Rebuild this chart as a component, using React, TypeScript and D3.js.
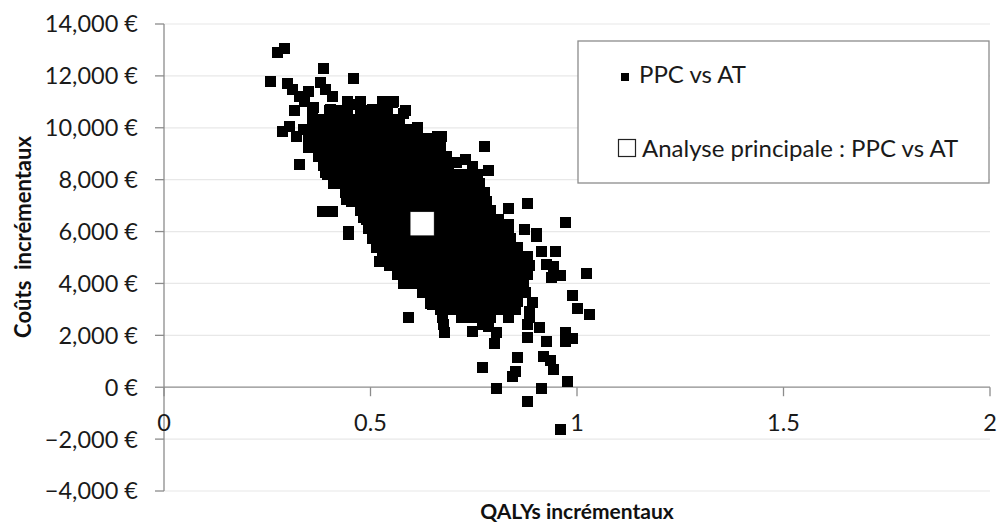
import React from 'react';
import * as d3 from 'd3';

// axis ticks
const xTicks = [0, 0.5, 1, 1.5, 2];
const yTicks = [-4000, -2000, 0, 2000, 4000, 6000, 8000, 10000, 12000, 14000];

// base case (white square)
const mainAnalysis = { qaly: 0.625, cost: 6300 };

// scattered simulations around the cloud, [qaly, cost]
const scattered: [number, number][] = [
  [0.274, 12900], [0.291, 13060], [0.387, 12290], [0.460, 11910], [0.259, 11790], [0.298, 11720],
  [0.312, 11480], [0.329, 11210], [0.349, 11400], [0.378, 11750], [0.390, 11480], [0.409, 11210],
  [0.341, 11020], [0.361, 10790], [0.317, 10680], [0.402, 10710], [0.455, 10900], [0.475, 10600],
  [0.504, 10710], [0.530, 10600], [0.554, 10980], [0.579, 10560], [0.615, 10020], [0.613, 9710],
  [0.663, 9670], [0.286, 9870], [0.305, 10060], [0.322, 9670], [0.337, 9940], [0.370, 9940],
  [0.358, 9250], [0.329, 8590], [0.390, 8290], [0.426, 7940], [0.443, 7250], [0.383, 6780],
  [0.407, 6780], [0.482, 6550], [0.446, 6010],
  [0.673, 9670], [0.775, 9290], [0.709, 8670], [0.729, 8790], [0.748, 8520], [0.785, 8360],
  [0.835, 6900], [0.879, 7090], [0.973, 6360], [0.833, 6280], [0.874, 6090], [0.903, 5930],
  [0.903, 5820], [0.915, 5240], [0.949, 5240], [0.927, 4740], [0.959, 4320], [0.939, 4240],
  [0.944, 4660], [1.022, 4390], [0.990, 3550], [1.002, 3050], [1.031, 2810], [0.646, 3240],
  [0.591, 2700],
  [0.971, 2120], [0.971, 1770], [0.990, 1890], [0.925, 1770], [0.920, 1200], [0.937, 1040],
  [0.944, 690], [0.978, 230], [0.908, 2310], [0.879, 1930], [0.855, 1160], [0.850, 620],
  [0.845, 420], [0.770, 770], [0.804, -40], [0.915, -40], [0.879, -540], [0.959, -1620],
  [0.801, 1700], [0.806, 2120], [0.748, 2160], [0.680, 2120], [0.676, 2430], [0.651, 3200],
  [0.879, 2430], [0.893, 3280], [0.886, 2930], [0.886, 2700], [0.446, 5900], [0.523, 4860],
  [0.584, 4090], [0.649, 3200], [0.770, 2400], [0.785, 2350],
];

// dense part of the cloud, read row by row: [cost, qalys]
const cloudRows: [number, number[]][] = [
  [11000, [0.445, 0.475, 0.53, 0.555]],
  [10650, [0.36, 0.4, 0.425, 0.445, 0.49, 0.515, 0.54, 0.585]],
  [10300, [0.36, 0.385, 0.41, 0.43, 0.455, 0.48, 0.5, 0.525, 0.55, 0.57]],
  [9950, [0.355, 0.38, 0.4, 0.425, 0.445, 0.47, 0.49, 0.51, 0.535, 0.555, 0.58, 0.6]],
  [9600, [0.35, 0.37, 0.395, 0.415, 0.44, 0.46, 0.485, 0.505, 0.525, 0.55, 0.57, 0.595, 0.615, 0.64]],
  [9250, [0.35, 0.375, 0.395, 0.42, 0.44, 0.465, 0.485, 0.51, 0.53, 0.555, 0.575, 0.6, 0.62, 0.645, 0.67]],
  [8900, [0.375, 0.4, 0.42, 0.445, 0.465, 0.49, 0.51, 0.535, 0.555, 0.58, 0.6, 0.625, 0.645, 0.67, 0.685]],
  [8550, [0.385, 0.405, 0.43, 0.45, 0.475, 0.495, 0.52, 0.54, 0.565, 0.585, 0.61, 0.63, 0.655, 0.675, 0.69]],
  [8200, [0.395, 0.41, 0.43, 0.455, 0.475, 0.5, 0.52, 0.545, 0.565, 0.59, 0.61, 0.635, 0.655, 0.68, 0.7, 0.72, 0.745, 0.76]],
  [7850, [0.41, 0.43, 0.455, 0.475, 0.5, 0.52, 0.545, 0.565, 0.59, 0.61, 0.635, 0.655, 0.68, 0.7, 0.725, 0.745, 0.765]],
  [7500, [0.44, 0.46, 0.485, 0.505, 0.53, 0.55, 0.575, 0.595, 0.62, 0.64, 0.665, 0.685, 0.71, 0.73, 0.75, 0.775]],
  [7150, [0.455, 0.48, 0.5, 0.525, 0.545, 0.57, 0.59, 0.615, 0.635, 0.66, 0.68, 0.705, 0.725, 0.75, 0.77, 0.78]],
  [6800, [0.475, 0.5, 0.52, 0.545, 0.565, 0.59, 0.61, 0.635, 0.655, 0.68, 0.7, 0.725, 0.745, 0.77, 0.79]],
  [6450, [0.49, 0.51, 0.535, 0.555, 0.58, 0.6, 0.625, 0.645, 0.67, 0.69, 0.715, 0.735, 0.76, 0.78, 0.8, 0.81]],
  [6100, [0.495, 0.52, 0.54, 0.565, 0.585, 0.61, 0.63, 0.655, 0.675, 0.7, 0.72, 0.745, 0.765, 0.79, 0.81, 0.835]],
  [5750, [0.505, 0.525, 0.55, 0.57, 0.595, 0.615, 0.64, 0.66, 0.685, 0.705, 0.73, 0.75, 0.775, 0.795, 0.82, 0.84]],
  [5400, [0.515, 0.54, 0.56, 0.585, 0.605, 0.63, 0.65, 0.675, 0.695, 0.72, 0.74, 0.765, 0.785, 0.81, 0.83, 0.855]],
  [5050, [0.53, 0.55, 0.575, 0.595, 0.62, 0.64, 0.665, 0.685, 0.71, 0.73, 0.755, 0.775, 0.8, 0.82, 0.845, 0.865, 0.88]],
  [4700, [0.545, 0.57, 0.59, 0.615, 0.635, 0.66, 0.68, 0.705, 0.725, 0.75, 0.77, 0.795, 0.815, 0.84, 0.86, 0.885]],
  [4350, [0.565, 0.585, 0.61, 0.63, 0.655, 0.675, 0.7, 0.72, 0.745, 0.765, 0.79, 0.81, 0.835, 0.855, 0.88]],
  [4000, [0.58, 0.6, 0.625, 0.645, 0.67, 0.69, 0.715, 0.735, 0.76, 0.78, 0.805, 0.825, 0.85, 0.87]],
  [3650, [0.625, 0.65, 0.67, 0.695, 0.715, 0.74, 0.76, 0.785, 0.805, 0.83, 0.85, 0.875]],
  [3300, [0.65, 0.675, 0.695, 0.72, 0.74, 0.765, 0.785, 0.81, 0.83, 0.855]],
  [3000, [0.67, 0.69, 0.715, 0.735, 0.76, 0.78, 0.805, 0.825, 0.85]],
  [2700, [0.675, 0.72, 0.745, 0.765, 0.79, 0.835]],
];

const W = 997;
const H = 523;
const font = 'Lato, "Open Sans", sans-serif';

export default function App() {
  const x = d3.scaleLinear().domain([0, 2]).range([164, 990]);
  const y = d3.scaleLinear().domain([-4000, 14000]).range([491, 24]);
  const fmtCost = (v: number) => d3.format(',')(v) + ' €';

  const points: [number, number][] = [...scattered];
  cloudRows.forEach(([c, qs]) => qs.forEach((q) => points.push([q, c])));

  const s = 11;
  const big = 24;

  return (
    <svg width={W} height={H} style={{ position: 'absolute', left: 0, top: 0, background: '#fff' }} fontFamily={font}>
      {/* gridlines */}
      {yTicks.filter((t) => t !== 0).map((t) => (
        <line key={'g' + t} x1={x(0)} x2={x(2)} y1={y(t)} y2={y(t)} stroke="#e8e8e8" strokeWidth={1.2} />
      ))}
      {/* y axis */}
      <line x1={x(0)} x2={x(0)} y1={y(14000)} y2={y(-4000)} stroke="#8c8c8c" strokeWidth={1.3} />
      {yTicks.map((t) => (
        <g key={'y' + t}>
          <line x1={x(0) - 9} x2={x(0)} y1={y(t)} y2={y(t)} stroke="#8c8c8c" strokeWidth={1.3} />
          <text x={138} y={y(t)} dy="0.36em" textAnchor="end" fontSize={23.5} fill="#1a1a1a">
            {fmtCost(t)}
          </text>
        </g>
      ))}
      {/* x axis at zero cost */}
      <line x1={x(0)} x2={x(2)} y1={y(0)} y2={y(0)} stroke="#8c8c8c" strokeWidth={1.3} />
      {xTicks.map((t) => (
        <g key={'x' + t}>
          <line x1={x(t)} x2={x(t)} y1={y(0)} y2={y(0) + 9} stroke="#8c8c8c" strokeWidth={1.3} />
          <text x={x(t)} y={431} textAnchor="middle" fontSize={23.5} fill="#1a1a1a">
            {String(t)}
          </text>
        </g>
      ))}
      {/* simulations */}
      <g shapeRendering="crispEdges">
        {points.map(([q, c], i) => (
          <rect key={i} x={x(q) - s / 2} y={y(c) - s / 2} width={s} height={s} fill="#000" />
        ))}
      </g>
      <rect
        x={x(mainAnalysis.qaly) - big / 2}
        y={y(mainAnalysis.cost) - big / 2}
        width={big}
        height={big}
        fill="#fff"
        stroke="#000"
        strokeWidth={0.5}
      />
      {/* legend */}
      <rect x={578} y={41} width={411} height={142} fill="#fff" stroke="#8c8c8c" strokeWidth={1.3} />
      <rect x={621} y={73} width={8} height={8} fill="#000" />
      <text x={639} y={83} fontSize={24} fill="#1a1a1a">PPC vs AT</text>
      <rect x={618.5} y={139.5} width={17} height={17} fill="#fff" stroke="#222" strokeWidth={1.2} />
      <text x={642} y={157} fontSize={24} fill="#1a1a1a">Analyse principale : PPC vs AT</text>
      {/* axis titles */}
      <text
        transform={`translate(31, ${237}) rotate(-90)`}
        textAnchor="middle"
        fontSize={22}
        fontWeight="bold"
        fill="#111"
        style={{ whiteSpace: 'pre' }}
      >
        {'Coûts  incrémentaux'}
      </text>
      <text x={577} y={519} textAnchor="middle" fontSize={21} fontWeight="bold" fill="#111">
        QALYs incrémentaux
      </text>
    </svg>
  );
}
